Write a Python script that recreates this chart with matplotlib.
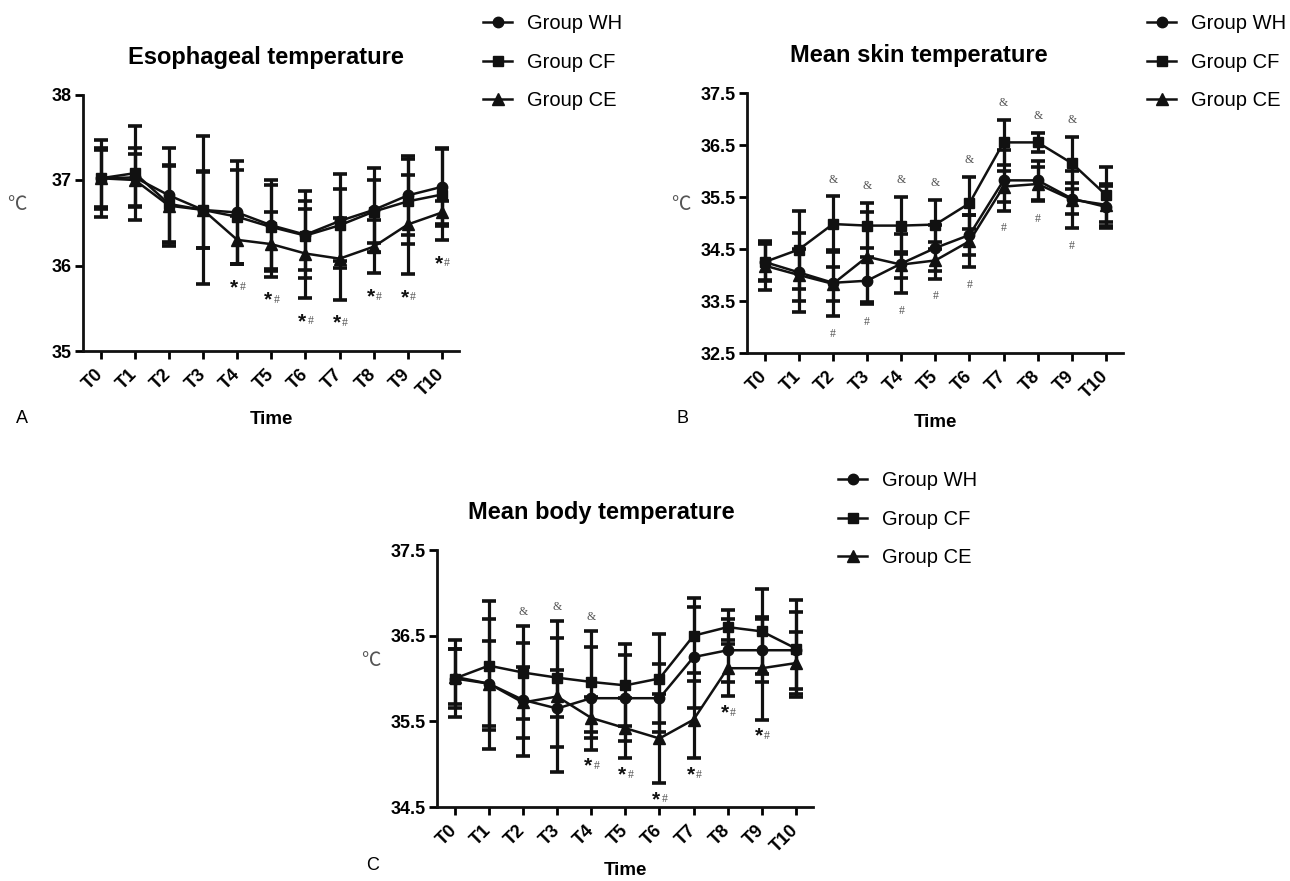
import matplotlib
matplotlib.use("Agg")
import matplotlib.pyplot as plt

plt.rcParams['font.family'] = ['Liberation Sans', 'DejaVu Sans']

times = ['T0', 'T1', 'T2', 'T3', 'T4', 'T5', 'T6', 'T7', 'T8', 'T9', 'T10']
groups = ['Group WH', 'Group CF', 'Group CE']

# A - esophageal temperature (mean, sd)
eso_wh = [37.02, 37.03, 36.82, 36.65, 36.62, 36.47, 36.36, 36.52, 36.65, 36.82, 36.92]
eso_wh_sd = [0.45, 0.35, 0.56, 0.45, 0.60, 0.53, 0.51, 0.55, 0.49, 0.46, 0.46]
eso_cf = [37.02, 37.08, 36.72, 36.65, 36.57, 36.45, 36.35, 36.47, 36.63, 36.75, 36.83]
eso_cf_sd = [0.36, 0.55, 0.44, 0.44, 0.55, 0.49, 0.40, 0.42, 0.37, 0.50, 0.53]
eso_ce = [37.02, 37.00, 36.70, 36.65, 36.30, 36.25, 36.14, 36.08, 36.22, 36.48, 36.62]
eso_ce_sd = [0.33, 0.30, 0.47, 0.87, 0.28, 0.38, 0.52, 0.48, 0.31, 0.58, 0.14]

# B - mean skin temperature
skin_wh = [34.25, 34.05, 33.85, 33.89, 34.22, 34.52, 34.77, 35.82, 35.82, 35.47, 35.31]
skin_wh_sd = [0.35, 0.76, 0.64, 0.45, 0.56, 0.45, 0.38, 0.58, 0.37, 0.30, 0.40]
skin_cf = [34.25, 34.49, 34.98, 34.95, 34.95, 34.97, 35.38, 36.55, 36.55, 36.15, 35.54]
skin_cf_sd = [0.36, 0.75, 0.53, 0.43, 0.55, 0.47, 0.50, 0.44, 0.19, 0.50, 0.53]
skin_ce = [34.18, 34.00, 33.83, 34.35, 34.20, 34.28, 34.65, 35.70, 35.75, 35.45, 35.35]
skin_ce_sd = [0.47, 0.50, 0.33, 0.87, 0.25, 0.35, 0.50, 0.30, 0.33, 0.55, 0.40]

# C - mean body temperature
body_wh = [36.00, 35.94, 35.75, 35.65, 35.77, 35.77, 35.77, 36.25, 36.33, 36.33, 36.33]
body_wh_sd = [0.45, 0.76, 0.66, 0.45, 0.60, 0.50, 0.40, 0.59, 0.37, 0.37, 0.45]
body_cf = [36.00, 36.15, 36.07, 36.01, 35.96, 35.92, 36.00, 36.50, 36.60, 36.55, 36.35]
body_cf_sd = [0.35, 0.75, 0.54, 0.46, 0.59, 0.48, 0.52, 0.44, 0.20, 0.50, 0.57]
body_ce = [36.02, 35.94, 35.72, 35.79, 35.54, 35.42, 35.30, 35.52, 36.12, 36.12, 36.18]
body_ce_sd = [0.32, 0.50, 0.42, 0.88, 0.24, 0.35, 0.52, 0.45, 0.33, 0.60, 0.36]

# time points carrying significance marks
eso_star = [4, 5, 6, 7, 8, 9, 10]
skin_amp = [2, 3, 4, 5, 6, 7, 8, 9]
skin_hash = [2, 3, 4, 5, 6, 7, 8, 9]
body_amp = [2, 3, 4]
body_star = [4, 5, 6, 7, 8, 9]

markers = ['o', 's', '^']
msizes = [7.5, 7, 8]
INK = '#111111'
GREY = '#555555'
SERIF = ['Liberation Serif', 'DejaVu Serif']

W, H = 1290, 881
fig = plt.figure(figsize=(W / 100, H / 100), dpi=100)


def px_axes(left, top, right, bottom):
    return fig.add_axes([left / W, 1 - bottom / H, (right - left) / W, (bottom - top) / H])


def panel(ax, series, ylim, yticks, ytl, title, title_x, letter, letter_xy, legend_xy,
          time_y=-0.235):
    x = list(range(len(times)))
    handles = []
    for (m, sd), mk, ms, lab in zip(series, markers, msizes, groups):
        ax.errorbar(x, m, yerr=sd, fmt='none', ecolor=INK, elinewidth=2.3,
                    capsize=4.7, capthick=2.6, zorder=2)
        ln, = ax.plot(x, m, color=INK, lw=1.8, marker=mk, ms=ms, zorder=3, label=lab)
        handles.append(ln)

    ax.set_xlim(-0.52, 10.5)
    ax.set_ylim(*ylim)
    ax.set_yticks(yticks)
    ax.set_yticklabels(ytl, fontsize=13, fontweight='bold')
    ax.set_xticks(x)
    ax.set_xticklabels(times, fontsize=13, fontweight='bold', rotation=45,
                       ha='right', va='center', rotation_mode='anchor')
    ax.tick_params(axis='x', length=6, width=2, pad=9)
    ax.tick_params(axis='y', length=6, width=2, pad=2)
    for s in ['top', 'right']:
        ax.spines[s].set_visible(False)
    for s in ['left', 'bottom']:
        ax.spines[s].set_linewidth(2)
        ax.spines[s].set_color(INK)

    ax.set_title(title, fontsize=17, fontweight='bold', x=title_x, pad=22)
    ax.set_xlabel('Time', fontsize=13.5, fontweight='bold')
    ax.xaxis.set_label_coords(0.5, time_y)
    ax.set_ylabel('℃', rotation=0, fontsize=14, color='#555555',
                  family=['Noto Sans CJK SC', 'DejaVu Sans'], va='center', ha='center')
    ax.yaxis.set_label_coords(-0.175, 0.57)

    fig.text(letter_xy[0] / W, 1 - letter_xy[1] / H, letter, fontsize=13,
             ha='center', va='center')

    ax.legend(handles=handles, loc='upper left',
              bbox_to_anchor=(legend_xy[0] / W, 1 - legend_xy[1] / H),
              bbox_transform=fig.transFigure, frameon=False, fontsize=14.5,
              handlelength=1.45, handletextpad=0.75, labelspacing=0.98,
              borderpad=0, borderaxespad=0)
    return ax


def star_hash(ax, series, idx, off):
    for i in idx:
        low = min(m[i] - sd[i] for m, sd in series)
        ax.annotate('*', xy=(i, low), xytext=(-2.2, off - 5), textcoords='offset points',
                    ha='center', va='baseline', fontsize=15, fontweight='bold', color=INK)
        ax.annotate('#', xy=(i, low), xytext=(3.8, off - 3), textcoords='offset points',
                    ha='center', va='baseline', fontsize=8.5, color=GREY, family=SERIF)


def hash_only(ax, series, idx, off):
    for i in idx:
        low = min(m[i] - sd[i] for m, sd in series)
        ax.annotate('#', xy=(i, low), xytext=(0, off - 3), textcoords='offset points',
                    ha='center', va='baseline', fontsize=8.5, color=GREY, family=SERIF)


def amp(ax, series, idx, off):
    for i in idx:
        high = max(m[i] + sd[i] for m, sd in series)
        ax.annotate('&', xy=(i, high), xytext=(0, off - 3), textcoords='offset points',
                    ha='center', va='baseline', fontsize=8.5, color=GREY, family=SERIF)


eso = [(eso_wh, eso_wh_sd), (eso_cf, eso_cf_sd), (eso_ce, eso_ce_sd)]
skin = [(skin_wh, skin_wh_sd), (skin_cf, skin_cf_sd), (skin_ce, skin_ce_sd)]
body = [(body_wh, body_wh_sd), (body_cf, body_cf_sd), (body_ce, body_ce_sd)]

axA = px_axes(83, 94.5, 459, 351)
panel(axA, eso, (35, 38), [35, 36, 37, 38], ['35', '36', '37', '38'],
      'Esophageal temperature', 0.487, 'A', (22, 418), (483, 14))
star_hash(axA, eso, eso_star, -16)

axB = px_axes(747, 93, 1123, 353)
panel(axB, skin, (32.5, 37.5), [32.5, 33.5, 34.5, 35.5, 36.5, 37.5],
      ['32.5', '33.5', '34.5', '35.5', '36.5', '37.5'],
      'Mean skin temperature', 0.457, 'B', (683, 418), (1147, 14))
amp(axB, skin, skin_amp, 13)
hash_only(axB, skin, skin_hash, -12)

axC = px_axes(437, 550, 813, 807)
panel(axC, body, (34.5, 37.5), [34.5, 35.5, 36.5, 37.5], ['34.5', '35.5', '36.5', '37.5'],
      'Mean body temperature', 0.436, 'C', (373, 866), (838, 471), time_y=-0.215)
amp(axC, body, body_amp, 11)
star_hash(axC, body, body_star, -11)

fig.savefig('out.png', dpi=100)
